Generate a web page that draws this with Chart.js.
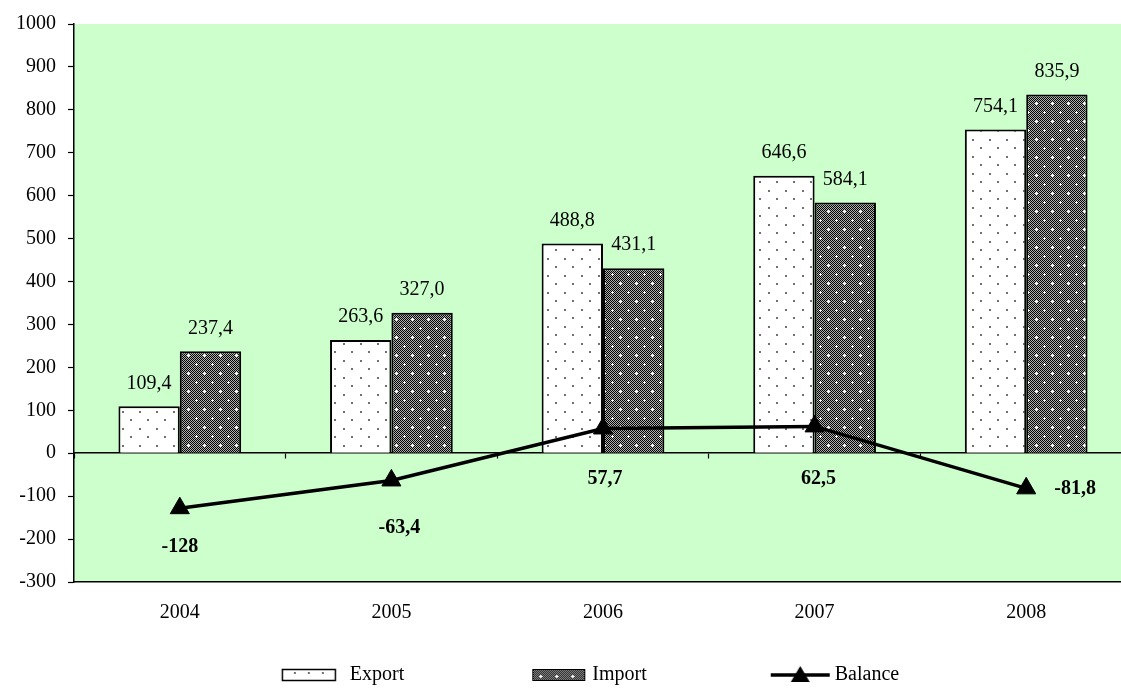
<!DOCTYPE html>
<html>
<head>
<meta charset="utf-8">
<script src="https://cdn.jsdelivr.net/npm/chart.js@4.4.0/dist/chart.umd.min.js"></script>
<style>
  html, body { margin: 0; padding: 0; background: #ffffff; }
  #wrap { width: 1121px; height: 691px; }
</style>
</head>
<body>
<div id="wrap"><canvas id="c" width="1121" height="691"></canvas></div>
<script>
// ---- data ----
const categories = ['2004', '2005', '2006', '2007', '2008'];
const exportValues = [109.4, 263.6, 488.8, 646.6, 754.1];
const importValues = [237.4, 327.0, 431.1, 584.1, 835.9];
const balanceValues = [-128, -63.4, 57.7, 62.5, -81.8];
const seriesNames = ['Export', 'Import', 'Balance'];

// ---- styles ----
const FONT = '"Liberation Serif", "Times New Roman", serif';
const balanceLabelOffsets = [[0, 39], [8, 47], [2, 50], [4, 52], [49, 0]];
const PLOT_RIGHT = 1132; // plot area continues past the right edge of the picture

function makeExportTile() {
  const c = document.createElement('canvas');
  c.width = 17; c.height = 17;
  const x = c.getContext('2d');
  x.fillStyle = '#ffffff'; x.fillRect(0, 0, 17, 17);
  x.fillStyle = '#707070';
  x.fillRect(3, 3, 2, 2);
  x.fillRect(11, 11, 2, 2);
  return c;
}
function makeImportTile() {
  const c = document.createElement('canvas');
  c.width = 16; c.height = 18;
  const x = c.getContext('2d');
  for (let yy = 0; yy < 18; yy++) {
    for (let xx = 0; xx < 16; xx++) {
      x.fillStyle = ((xx + yy) % 2 === 0) ? '#000000' : '#b0b0b0';
      x.fillRect(xx, yy, 1, 1);
    }
  }
  x.fillStyle = '#ffffff';
  const plus = (px, py) => { x.fillRect(px - 1, py, 3, 1); x.fillRect(px, py - 1, 1, 3); };
  plus(4, 4); plus(12, 13);
  return c;
}
const ctx0 = document.getElementById('c').getContext('2d');
const exportPattern = ctx0.createPattern(makeExportTile(), 'repeat');
const importPattern = ctx0.createPattern(makeImportTile(), 'repeat');

function legendImage(kind) {
  const c = document.createElement('canvas');
  c.width = 160; c.height = 24;
  const x = c.getContext('2d');
  if (kind === 0) {
    x.fillStyle = '#ffffff'; x.fillRect(92, 6, 54, 12);
    x.fillStyle = '#707070';
    for (let k = 0; k < 3; k++) x.fillRect(104 + k * 14, 9, 2, 2);
    x.strokeStyle = '#000'; x.lineWidth = 1.5; x.strokeRect(92.5, 6.5, 53, 11);
  } else if (kind === 1) {
    x.fillStyle = x.createPattern(makeImportTile(), 'repeat'); x.fillRect(100, 6, 53, 12);
    x.strokeStyle = '#000'; x.lineWidth = 1; x.strokeRect(100.5, 6.5, 52, 11);
  } else {
    x.strokeStyle = '#000'; x.lineWidth = 3.5;
    x.beginPath(); x.moveTo(96, 12); x.lineTo(155, 12); x.stroke();
    x.fillStyle = '#000';
    x.beginPath(); x.moveTo(125.5, 3); x.lineTo(135, 19); x.lineTo(116, 19); x.closePath(); x.fill();
  }
  return c;
}
const legendImgs = [legendImage(0), legendImage(1), legendImage(2)];

const bgPlugin = {
  id: 'bg',
  afterLayout(chart) {
    ['x', 'x2'].forEach(id => {
      const s = chart.scales[id];
      s.right = PLOT_RIGHT;
      s.width = PLOT_RIGHT - s.left;
      s.configure();
    });
    chart.chartArea.right = PLOT_RIGHT;
    chart.chartArea.width = PLOT_RIGHT - chart.chartArea.left;
  },
  beforeDraw(chart) {
    const { ctx, chartArea: a } = chart;
    ctx.save();
    ctx.fillStyle = '#ffffff';
    ctx.fillRect(0, 0, chart.width, chart.height);
    ctx.fillStyle = '#CCFFCC';
    ctx.fillRect(a.left, a.top, a.right - a.left, a.bottom - a.top);
    ctx.restore();
  }
};

const labelPlugin = {
  id: 'valueLabels',
  afterDatasetsDraw(chart) {
    const ctx = chart.ctx;
    ctx.save();
    ctx.fillStyle = '#000';
    ctx.textAlign = 'center';
    ctx.textBaseline = 'middle';
    chart.data.datasets.forEach((ds, di) => {
      const meta = chart.getDatasetMeta(di);
      meta.data.forEach((el, i) => {
        const v = ds.data[i];
        if (ds.type === 'line') {
          const off = balanceLabelOffsets[i];
          ctx.font = 'bold 20px ' + FONT;
          ctx.fillText(String(v).replace('.', ','), el.x + off[0], el.y + off[1]);
        } else {
          ctx.font = '20px ' + FONT;
          ctx.fillText(v.toFixed(1).replace('.', ','), el.x, el.y - 23);
        }
      });
    });
    ctx.restore();
  }
};

new Chart(document.getElementById('c'), {
  data: {
    labels: categories,
    datasets: [
      { type: 'bar', label: seriesNames[0], data: exportValues, backgroundColor: exportPattern,
        borderColor: '#000', borderWidth: 2, order: 1, xAxisID: 'x', yAxisID: 'y' },
      { type: 'bar', label: seriesNames[1], data: importValues, backgroundColor: importPattern,
        borderColor: '#000', borderWidth: 2, order: 1, xAxisID: 'x', yAxisID: 'y' },
      { type: 'line', label: seriesNames[2], data: balanceValues, borderColor: '#000', borderWidth: 3.5,
        backgroundColor: '#000', pointStyle: 'triangle', pointRadius: 11, pointBorderWidth: 1,
        pointBackgroundColor: '#000', pointBorderColor: '#000', tension: 0, fill: false, order: 0,
        xAxisID: 'x', yAxisID: 'y' }
    ]
  },
  options: {
    responsive: false,
    animation: false,
    devicePixelRatio: 1,
    layout: { padding: { left: 16, right: 38, top: 23, bottom: -4 } },
    datasets: { bar: { categoryPercentage: 0.58, barPercentage: 1 } },
    scales: {
      x: {
        type: 'category',
        position: 'bottom',
        offset: true,
        grid: { display: true, drawOnChartArea: false, drawTicks: false, offset: true },
        border: { display: true, color: '#000', width: 1.5 },
        ticks: { color: '#000', font: { family: FONT, size: 20 }, padding: 19, maxRotation: 0 },
        afterFit(s) { s.height = 45; }
      },
      x2: {
        type: 'category',
        axis: 'x',
        labels: categories,
        position: { y: 0 },
        offset: true,
        grid: { display: true, drawOnChartArea: false, drawTicks: true, tickLength: 5,
                offset: true, tickColor: '#000', tickWidth: 1.2, color: '#000' },
        border: { display: true, color: '#000', width: 1.5 },
        ticks: { display: false }
      },
      y: {
        type: 'linear',
        position: 'left',
        min: -300,
        max: 1000,
        grid: { display: true, drawOnChartArea: false, drawTicks: true, tickLength: 6,
                tickColor: '#000', tickWidth: 1.2 },
        border: { display: true, color: '#000', width: 1.5 },
        ticks: { stepSize: 100, color: '#000', font: { family: FONT, size: 20 }, padding: 12,
                 callback: v => String(v) },
        afterFit(s) { s.width = 58; }
      }
    },
    plugins: {
      tooltip: { enabled: false },
      legend: {
        display: true,
        position: 'bottom',
        fullSize: true,
        labels: {
          color: '#000',
          font: { family: FONT, size: 20 },
          usePointStyle: true,
          pointStyleWidth: 140,
          padding: 38,
          sort: (a, b) => a.datasetIndex - b.datasetIndex,
          generateLabels(chart) {
            const items = Chart.defaults.plugins.legend.labels.generateLabels(chart);
            items.forEach(it => { it.pointStyle = legendImgs[it.datasetIndex]; it.lineWidth = 0; });
            return items;
          }
        }
      }
    }
  },
  plugins: [bgPlugin, labelPlugin]
});
</script>
</body>
</html>
